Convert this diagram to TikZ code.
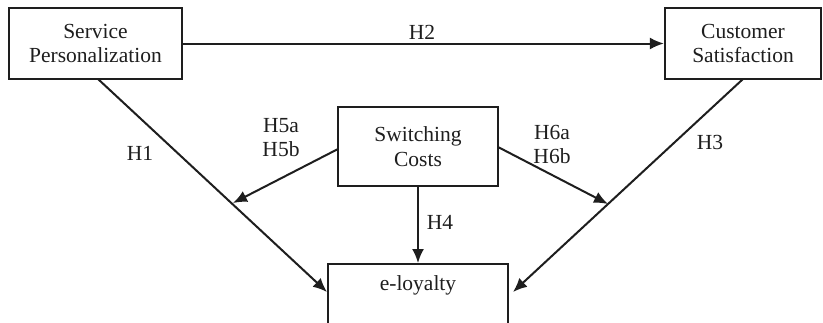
\documentclass[tikz,border=0pt]{standalone}
\usepackage{fontspec}
\setmainfont{Liberation Serif}
\usetikzlibrary{arrows.meta}
\definecolor{ink}{HTML}{1E1E1E}
\begin{document}
\begin{tikzpicture}[x=1pt,y=-1pt,
  box/.style={draw=ink,line width=2.2pt,align=center,inner sep=0pt,
    font=\fontsize{21.5}{24.5}\selectfont,text=ink},
  lbl/.style={inner sep=0pt,align=center,font=\fontsize{21.5}{24.5}\selectfont,text=ink},
  arr/.style={draw=ink,line width=2pt,-{Latex[length=14pt,width=12pt]}}]
\useasboundingbox (0,0) rectangle (823,322);
\clip (0,0) rectangle (823,322);
\fill[white] (0,0) rectangle (823,322);
% boxes
\node[box,minimum width=173,minimum height=71] (sp) at (95.5,43.5) {Service\\Personalization};
\node[box,minimum width=156,minimum height=71] (cs) at (743,43.5) {Customer\\Satisfaction};
\node[box,minimum width=160,minimum height=79] (sc) at (418,146.5) {Switching\\Costs};
\node[box,minimum width=180,minimum height=79,anchor=north] (el) at (418,263) {};
\node[lbl] (elt) at (418,285) {e-loyalty};
% junction coordinates
\coordinate (h1s) at (98,79);
\coordinate (h1e) at (327,292);
\coordinate (j1) at (233,203);
\coordinate (h3s) at (743,79);
\coordinate (h3e) at (513,292);
\coordinate (j2) at (608,204);
\coordinate (h5s) at (338,149);
\coordinate (h6s) at (498,147);
% connectors
\draw[arr] (sp.east) -- (cs.west);
\draw[arr] (h1s) -- (h1e);
\draw[arr] (h3s) -- (h3e);
\draw[arr] (h5s) -- (j1);
\draw[arr] (h6s) -- (j2);
\draw[arr] (sc.south) -- (el.north);
% labels
\node[lbl] (l2) at (422,32) {H2};
\node[lbl] (l1) at (140,153) {H1};
\node[lbl] (l3) at (710,142) {H3};
\node[lbl] (l4) at (440,222) {H4};
\node[lbl] (l5) at (281,137.5) {H5a\\H5b};
\node[lbl] (l6) at (552,144.5) {H6a\\H6b};
\end{tikzpicture}
\end{document}
